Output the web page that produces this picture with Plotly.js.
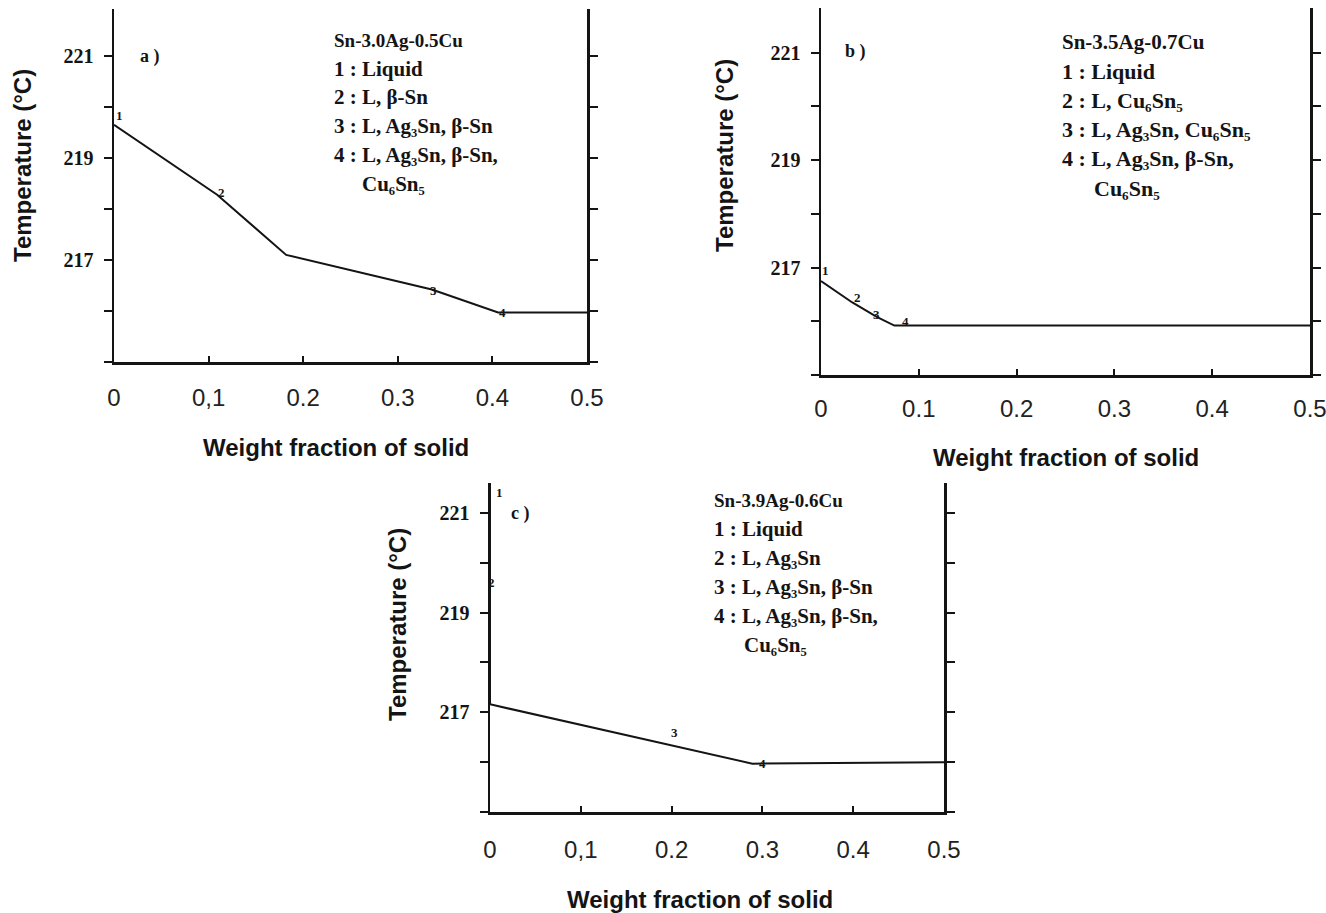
<!DOCTYPE html>
<html>
<head>
<meta charset="utf-8">
<script src="https://cdn.plot.ly/plotly-3.0.1.min.js"></script>
<style>html,body{margin:0;padding:0;background:#fff;}#chart{width:1326px;height:913px;}</style>
</head>
<body>
<div id="chart"></div>
<script>
// ---- data ----
const fracA = [0, 0.109, 0.182, 0.336, 0.406, 0.5];
const tempA = [219.65, 218.28, 217.1, 216.42, 215.97, 215.97];
const fracB = [0, 0.032, 0.057, 0.075, 0.5];
const tempB = [216.75, 216.35, 216.08, 215.92, 215.92];
const fracC = [0, 0, 0.289, 0.5];
const tempC = [221.6, 217.16, 215.97, 216.0];

const regionLabels = ["1", "2", "3", "4"];
const regionFracA = [0.006, 0.114, 0.338, 0.411];
const regionTempA = [219.84, 218.33, 216.41, 215.98];
const regionFracB = [0.005, 0.037, 0.057, 0.086];
const regionTempB = [216.94, 216.45, 216.12, 215.99];
const regionFracC = [0.011, 0.002, 0.203, 0.300];
const regionTempC = [221.4, 219.6, 216.59, 215.98];

const panelLetters = ["a )", "b )", "c )"];
const alloyNames = ["Sn-3.0Ag-0.5Cu", "Sn-3.5Ag-0.7Cu", "Sn-3.9Ag-0.6Cu"];
const phasesA = ["1 : Liquid", "2 : L, β-Sn", "3 : L, Ag₃Sn, β-Sn", "4 : L, Ag₃Sn, β-Sn,", "Cu₆Sn₅"];
const phasesB = ["1 : Liquid", "2 : L, Cu₆Sn₅", "3 : L, Ag₃Sn, Cu₆Sn₅", "4 : L, Ag₃Sn, β-Sn,", "Cu₆Sn₅"];
const phasesC = ["1 : Liquid", "2 : L, Ag₃Sn", "3 : L, Ag₃Sn, β-Sn", "4 : L, Ag₃Sn, β-Sn,", "Cu₆Sn₅"];

const xTickVals = [0, 0.1, 0.2, 0.3, 0.4, 0.5];
const xTickTextA = ["0", "0,1", "0.2", "0.3", "0.4", "0.5"];
const xTickTextB = ["0", "0.1", "0.2", "0.3", "0.4", "0.5"];
const xTickTextC = ["0", "0,1", "0.2", "0.3", "0.4", "0.5"];
const yTickVals = [217, 219, 221];
const yTickText = ["217", "219", "221"];
const yMinorStep = 1;

const xTitle = "Weight fraction of solid";
const yTitle = "Temperature (°C)";

// ---- layout helpers (pixel -> paper) ----
const W = 1326, H = 913;
const px = v => v / W;
const py = v => 1 - v / H;
const INK = "#141414";

const panels = [
  {xa: "x", ya: "y", left: 114, right: 587, top: 9, bottom: 362, ymax: 221.92, xt: xTickTextA, standoff: 13,
   frac: fracA, temp: tempA, rf: regionFracA, rt: regionTempA,
   letter: [150, 56], block: [332, 40, 28.7], phases: phasesA, indent: 28, nameSize: 19, phaseSize: 21,
   ytitle: [22, 166], xtitle: [336, 447]},
  {xa: "x2", ya: "y2", left: 821, right: 1310, top: 8, bottom: 375, ymax: 221.83, xt: xTickTextB, standoff: 11,
   frac: fracB, temp: tempB, rf: regionFracB, rt: regionTempB,
   letter: [855, 52], block: [1060, 42, 29.2], phases: phasesB, indent: 32, nameSize: 21, phaseSize: 22,
   ytitle: [724, 155], xtitle: [1066, 457]},
  {xa: "x3", ya: "y3", left: 490, right: 944, top: 483, bottom: 812, ymax: 221.6, xt: xTickTextC, standoff: 15,
   frac: fracC, temp: tempC, rf: regionFracC, rt: regionTempC,
   letter: [520, 513], block: [712, 500, 29], phases: phasesC, indent: 30, nameSize: 19, phaseSize: 21,
   ytitle: [397, 625], xtitle: [700, 899]}
];

const traces = [];
const annotations = [];
const layout = {
  width: W, height: H,
  margin: {l: 0, r: 0, t: 0, b: 0},
  paper_bgcolor: "#fff", plot_bgcolor: "#fff",
  showlegend: false,
  annotations: annotations
};

panels.forEach((p, i) => {
  traces.push({
    x: p.frac, y: p.temp, xaxis: p.xa, yaxis: p.ya,
    type: "scatter", mode: "lines",
    line: {color: INK, width: 2},
    hoverinfo: "skip"
  });
  const xk = "xaxis" + (i === 0 ? "" : i + 1);
  const yk = "yaxis" + (i === 0 ? "" : i + 1);
  layout[xk] = {
    domain: [px(p.left), px(p.right)], anchor: p.ya, range: [0, 0.5],
    showline: true, linewidth: 2.5, linecolor: INK, mirror: false,
    ticks: "inside", ticklen: 6, tickwidth: 2, tickcolor: INK,
    tickmode: "array", tickvals: xTickVals, ticktext: p.xt,
    tickfont: {family: "Liberation Sans, Arial, sans-serif", size: 24, color: "#222"},
    ticklabelstandoff: p.standoff, ticklabeloverflow: "allow",
    showgrid: false, zeroline: false, fixedrange: true
  };
  layout[yk] = {
    domain: [py(p.bottom), py(p.top)], anchor: p.xa, range: [215, p.ymax],
    showline: true, linewidth: 2.5, linecolor: INK, mirror: "ticks",
    ticks: "outside", ticklen: 8, tickwidth: 2, tickcolor: INK,
    tickmode: "array", tickvals: yTickVals, ticktext: yTickText,
    minor: {tick0: 215, dtick: yMinorStep, ticks: "outside", ticklen: 8, tickwidth: 2, tickcolor: INK, showgrid: false},
    tickfont: {family: "Liberation Serif, Times New Roman, serif", size: 20, color: INK, weight: "bold"},
    ticklabelstandoff: 6,
    showgrid: false, zeroline: false, fixedrange: true
  };

  // region numbers on the curve
  regionLabels.forEach((lab, k) => {
    annotations.push({
      xref: p.xa, yref: p.ya, x: p.rf[k], y: p.rt[k], text: lab,
      showarrow: false, xanchor: "center", yanchor: "middle",
      font: {family: "Liberation Serif, serif", size: 13, color: INK, weight: "bold"}
    });
  });

  // panel letter
  annotations.push({
    xref: "paper", yref: "paper", x: px(p.letter[0]), y: py(p.letter[1]),
    text: panelLetters[i], showarrow: false, xanchor: "center", yanchor: "middle",
    font: {family: "Liberation Serif, serif", size: 18, color: INK, weight: "bold"}
  });

  // alloy name + phase list
  const lines = [alloyNames[i]].concat(p.phases);
  lines.forEach((t, k) => {
    const indent = (k === lines.length - 1) ? p.indent : 0;
    annotations.push({
      xref: "paper", yref: "paper",
      x: px(p.block[0] + indent), y: py(p.block[1] + k * p.block[2]),
      text: t, showarrow: false, xanchor: "left", yanchor: "middle",
      font: {family: "Liberation Serif, Times New Roman, serif", size: k === 0 ? p.nameSize : p.phaseSize, color: INK, weight: "bold"}
    });
  });

  // axis titles
  annotations.push({
    xref: "paper", yref: "paper", x: px(p.ytitle[0]), y: py(p.ytitle[1]),
    text: yTitle, textangle: -90, showarrow: false,
    xanchor: "center", yanchor: "middle",
    font: {family: "Liberation Sans, Arial, sans-serif", size: 24, color: INK, weight: "bold"}
  });
  annotations.push({
    xref: "paper", yref: "paper", x: px(p.xtitle[0]), y: py(p.xtitle[1]),
    text: xTitle, showarrow: false,
    xanchor: "center", yanchor: "middle",
    font: {family: "Liberation Sans, Arial, sans-serif", size: 24, color: INK, weight: "bold"}
  });
});

Plotly.newPlot("chart", traces, layout, {displayModeBar: false, staticPlot: true});
</script>
</body>
</html>
